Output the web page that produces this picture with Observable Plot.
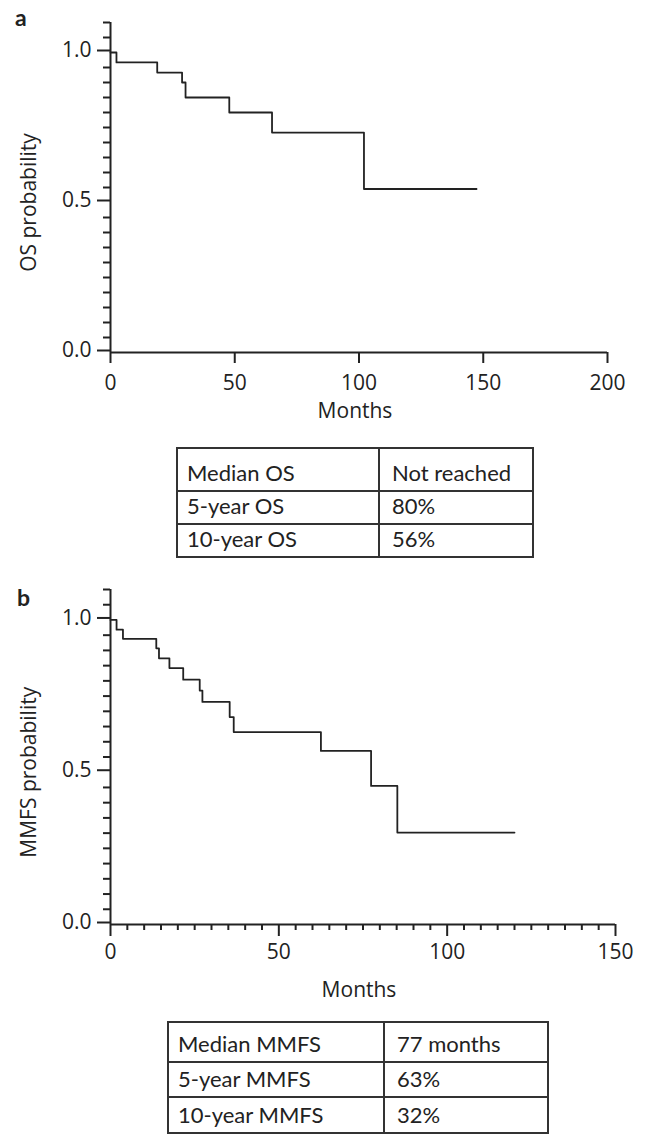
<!DOCTYPE html>
<html>
<head>
<meta charset="utf-8">
<script src="https://cdn.jsdelivr.net/npm/d3@7"></script>
<script src="https://cdn.jsdelivr.net/npm/@observablehq/plot@0.6"></script>
<style>
  html, body { margin: 0; padding: 0; background: #fff; }
  #root { position: relative; width: 648px; height: 1135px; overflow: hidden; background: #fff; }
  .panel { position: absolute; left: 0; }
  .plabel { position: absolute; font-family: Lato, sans-serif; font-weight: bold; font-size: 23px; color: #222; line-height: 1; }
  table.km { position: absolute; border-collapse: collapse; font-family: Lato, sans-serif; font-size: 22px; color: #222; }
  table.km td { border: 2px solid #333; padding: 0 0 6px 9px; vertical-align: bottom; line-height: 1; white-space: nowrap; }
  table.km td.v { padding-left: 12px; }
</style>
</head>
<body>
<div id="root"></div>
<script>
// ---- Data ----
// Panel a: overall survival (Kaplan-Meier step points)
const osMonths = [0, 2.4, 18.8, 28.8, 30.2, 47.8, 65, 102, 147.3];
const osProb   = [1, 0.967, 0.933, 0.9, 0.85, 0.8, 0.733, 0.545, 0.545];
const osXTicks = [0, 50, 100, 150, 200];
const osTableLabels = ["Median OS", "5-year OS", "10-year OS"];
const osTableValues = ["Not reached", "80%", "56%"];

// Panel b: MMFS
const mmfsMonths = [0, 1.8, 3.7, 13.6, 14.4, 17.5, 21.6, 26.5, 27.3, 35.4, 36.6, 62.5, 77.4, 85.2, 120];
const mmfsProb   = [1, 0.968, 0.938, 0.907, 0.874, 0.842, 0.804, 0.768, 0.731, 0.681, 0.632, 0.570, 0.455, 0.302, 0.302];
const mmfsXTicks = [0, 50, 100, 150];
const mmfsXMinor = [5,10,15,20,25,30,35,40,45,55,60,65,70,75,80,85,90,95,105,110,115,120,125,130,135,140,145];
const mmfsTableLabels = ["Median MMFS", "5-year MMFS", "10-year MMFS"];
const mmfsTableValues = ["77 months", "63%", "32%"];

const yMajor = [0, 0.5, 1.0];
const yMinor = [0.05,0.1,0.15,0.2,0.25,0.3,0.35,0.4,0.45,0.55,0.6,0.65,0.7,0.75,0.8,0.85,0.9,0.95,1.05,1.1];

const ink = "#222";
const root = document.getElementById("root");

function kmPlot({months, prob, xMax, xTicks, xMinor, yLabel, height, marginTop, marginBottom, marginRight, xTickSize, xTickPad, xLabelDy}) {
  const data = months.map((m, i) => ({m, p: prob[i]}));
  const marks = [
    Plot.ruleX([0], {y1: 0, y2: 1.1, stroke: ink, strokeWidth: 2}),
    Plot.ruleY([0], {x1: 0, x2: xMax, stroke: ink, strokeWidth: 2}),
    Plot.axisY({ticks: yMajor, tickSize: 13, tickPadding: 6, tickFormat: d3.format(".1f"), stroke: ink, fill: ink, strokeWidth: 2, label: null, dy: -2}),
    Plot.axisY({ticks: yMinor, tickSize: 7, text: null, stroke: ink, strokeWidth: 2, label: null}),
    Plot.axisX({ticks: xTicks, tickSize: xTickSize, tickPadding: xTickPad, tickFormat: d3.format("d"), stroke: ink, fill: ink, strokeWidth: 2, label: null}),
    Plot.text([yLabel], {x: 0, y: 0.5, dx: -81, rotate: -90, text: d => d, textAnchor: "middle", lineAnchor: "middle", fill: ink}),
    Plot.text(["Months"], {x: xMax / 2, y: 0, dx: -4, dy: xLabelDy, text: d => d, textAnchor: "middle", lineAnchor: "middle", fill: ink}),
    Plot.line(data, {x: "m", y: "p", curve: "step-after", stroke: ink, strokeWidth: 1.8})
  ];
  if (xMinor) marks.push(Plot.axisX({ticks: xMinor, tickSize: 6, text: null, stroke: ink, strokeWidth: 2, label: null}));
  return Plot.plot({
    width: 648, height,
    marginLeft: 110, marginRight, marginTop, marginBottom,
    x: {domain: [0, xMax]},
    y: {domain: [0, 1.1]},
    style: {fontFamily: "'Open Sans', sans-serif", fontSize: "21px", color: ink, background: "transparent", overflow: "visible"},
    marks
  });
}

function addPanel(svg, top) {
  svg.classList.add("panel");
  svg.style.top = top + "px";
  root.appendChild(svg);
}

function addLabel(txt, left, top) {
  const d = document.createElement("div");
  d.className = "plabel";
  d.textContent = txt;
  d.style.left = left + "px";
  d.style.top = top + "px";
  root.appendChild(d);
}

function addTable(labels, values, {left, top, width, col1, rowHeights}) {
  const t = document.createElement("table");
  t.className = "km";
  t.style.left = left + "px";
  t.style.top = top + "px";
  t.style.width = width + "px";
  labels.forEach((lab, i) => {
    const tr = document.createElement("tr");
    tr.style.height = rowHeights[i] + "px";
    const a = document.createElement("td");
    a.textContent = lab;
    a.style.width = col1 + "px";
    const b = document.createElement("td");
    b.className = "v";
    b.textContent = values[i];
    tr.appendChild(a); tr.appendChild(b);
    t.appendChild(tr);
  });
  root.appendChild(t);
}

// Panel a
addPanel(kmPlot({months: osMonths, prob: osProb, xMax: 200, xTicks: osXTicks, xMinor: null,
  yLabel: "OS probability", height: 430, marginTop: 22, marginBottom: 78, marginRight: 41,
  xTickSize: 11, xTickPad: 12, xLabelDy: 59}), 0);
addLabel("a", 15, 6);
addTable(osTableLabels, osTableValues, {left: 176, top: 447, width: 358, col1: 191, rowHeights: [43, 33, 33]});

// Panel b
addPanel(kmPlot({months: mmfsMonths, prob: mmfsProb, xMax: 150, xTicks: mmfsXTicks, xMinor: mmfsXMinor,
  yLabel: "MMFS probability", height: 440, marginTop: 19, marginBottom: 86, marginRight: 33,
  xTickSize: 12, xTickPad: 8, xLabelDy: 66}), 570);
addLabel("b", 17, 586);
addTable(mmfsTableLabels, mmfsTableValues, {left: 167, top: 1021, width: 382, col1: 205, rowHeights: [40, 35, 36]});
</script>
</body>
</html>
